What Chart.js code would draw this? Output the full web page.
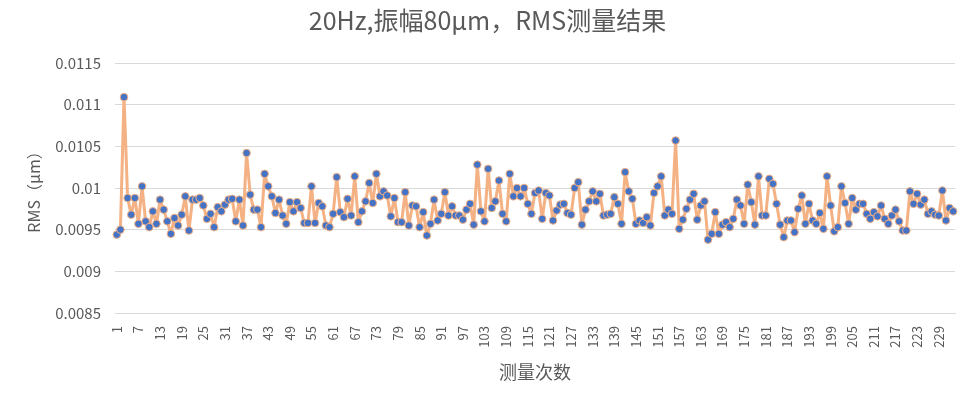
<!DOCTYPE html>
<html>
<head>
<meta charset="utf-8">
<script src="https://cdn.jsdelivr.net/npm/chart.js@4"></script>
<style>
  html, body { margin: 0; padding: 0; background: #fff; }
  #wrap { width: 964px; height: 393px; }
</style>
</head>
<body>
<div id="wrap"><canvas id="rmsChart" width="964" height="393"></canvas></div>
<script>
var rms1 = [0.00944, 0.0095, 0.01109, 0.00988, 0.00968, 0.00988, 0.00957, 0.01002, 0.0096, 0.00953,
  0.00972, 0.00957, 0.00986, 0.00974, 0.0096, 0.00945, 0.00964, 0.00955, 0.00968, 0.0099,
  0.00949, 0.00986, 0.00986, 0.00988, 0.00979, 0.00963, 0.00969, 0.00953, 0.00977, 0.00972,
  0.0098, 0.00986, 0.00987, 0.0096, 0.00986, 0.00955, 0.01042, 0.00992, 0.00974, 0.00974];
var rms2 = [0.00953, 0.01017, 0.01002, 0.0099, 0.0097, 0.00986, 0.00967, 0.00957, 0.00983, 0.00972,
  0.00983, 0.00976, 0.00958, 0.00958, 0.01002, 0.00958, 0.00982, 0.00978, 0.00955, 0.00953,
  0.00969, 0.01013, 0.00971, 0.00965, 0.00987, 0.00967, 0.01014, 0.00959, 0.00972, 0.00984,
  0.01006, 0.00982, 0.01017, 0.0099, 0.00996, 0.00991, 0.00966, 0.00988, 0.00959, 0.00959];
var rms3 = [0.00995, 0.00955, 0.00979, 0.00978, 0.00953, 0.00971, 0.00943, 0.00957, 0.00986, 0.00961,
  0.00969, 0.00995, 0.00967, 0.00978, 0.00967, 0.00967, 0.00962, 0.00974, 0.00981, 0.00956,
  0.01028, 0.00972, 0.0096, 0.01023, 0.00976, 0.00984, 0.01009, 0.00969, 0.0096, 0.01017,
  0.0099, 0.01, 0.0099, 0.01, 0.00981, 0.00969, 0.00994, 0.00997, 0.00963, 0.00994];
var rms4 = [0.00991, 0.00961, 0.00973, 0.0098, 0.00981, 0.0097, 0.00968, 0.01, 0.01007, 0.00956,
  0.00974, 0.00984, 0.00996, 0.00984, 0.00993, 0.00967, 0.00968, 0.00969, 0.00989, 0.00981,
  0.00957, 0.01019, 0.00996, 0.00987, 0.00957, 0.00961, 0.00958, 0.00965, 0.00955, 0.00994,
  0.01002, 0.01014, 0.00967, 0.00974, 0.00969, 0.01057, 0.00951, 0.00962, 0.00975, 0.00986];
var rms5 = [0.00993, 0.00962, 0.00979, 0.00984, 0.00938, 0.00945, 0.00971, 0.00945, 0.00956, 0.00959,
  0.00953, 0.00963, 0.00986, 0.00979, 0.00957, 0.01004, 0.00983, 0.00956, 0.01014, 0.00967,
  0.00967, 0.01011, 0.01005, 0.00981, 0.00956, 0.00941, 0.00961, 0.00961, 0.00947, 0.00975,
  0.00991, 0.00957, 0.00981, 0.00961, 0.00957, 0.0097, 0.00951, 0.01014, 0.00979, 0.00948];
var rms6 = [0.00953, 0.01002, 0.00982, 0.00957, 0.00988, 0.00974, 0.00981, 0.00981, 0.00969, 0.00963,
  0.00971, 0.00966, 0.00979, 0.00963, 0.00957, 0.00967, 0.00974, 0.0096, 0.00949, 0.00949,
  0.00996, 0.00981, 0.00993, 0.0098, 0.00986, 0.00969, 0.00972, 0.00968, 0.00967, 0.00997,
  0.00961, 0.00976, 0.00972];

var rmsValues = rms1.concat(rms2, rms3, rms4, rms5, rms6);

// measurement numbers 1..n
var runLabels = [];
for (var i = 1; i <= rmsValues.length; i++) runLabels.push(String(i));

var titleText = "20Hz,振幅80μm，RMS测量结果";
var yTitle = "RMS（μm）";
var xTitle = "测量次数";

var fontFamily = '"Noto Sans CJK SC", "Noto Sans", sans-serif';
var grey = "#595959";

var ctx = document.getElementById("rmsChart").getContext("2d");

var rmsChart = new Chart(ctx, {
  type: "line",
  data: {
    labels: runLabels,
    datasets: [{
      data: rmsValues,
      borderColor: "#F4B183",
      borderWidth: 3,
      borderJoinStyle: "round",
      borderCapStyle: "round",
      tension: 0,
      pointRadius: 3.8,
      pointBackgroundColor: "#4472C4",
      pointBorderColor: "#F4B183",
      pointBorderWidth: 1,
      fill: false
    }]
  },
  options: {
    responsive: false,
    animation: false,
    layout: { padding: { left: 20, right: 9, top: 0, bottom: 8 } },
    plugins: {
      legend: { display: false },
      tooltip: { enabled: false },
      title: {
        display: true,
        text: titleText,
        color: grey,
        font: { family: fontFamily, size: 25, weight: "normal" },
        padding: { top: 5, bottom: 28 }
      }
    },
    scales: {
      x: {
        type: "category",
        offset: true,
        grid: { display: false, drawTicks: false },
        border: { display: true, color: "#D9D9D9" },
        ticks: {
          autoSkip: false,
          maxRotation: 90,
          minRotation: 90,
          padding: 13,
          color: grey,
          font: { family: fontFamily, size: 13 },
          callback: function (val, idx) {
            return idx % 6 === 0 ? this.getLabelForValue(val) : "";
          }
        },
        title: {
          display: true,
          text: xTitle,
          color: grey,
          font: { family: fontFamily, size: 18 },
          padding: { top: 2, bottom: 2 }
        },
        afterFit: function (scale) {
          scale.height = 72;
          // rotated labels should not eat into the plot width
          scale.paddingLeft = 0;
          scale.paddingRight = 0;
        }
      },
      y: {
        min: 0.0085,
        max: 0.0115,
        grid: { color: "#D9D9D9", drawTicks: false },
        border: { display: false },
        ticks: {
          stepSize: 0.0005,
          padding: 14,
          color: grey,
          font: { family: fontFamily, size: 15 },
          callback: function (v) { return String(parseFloat(v.toFixed(4))); }
        },
        title: {
          display: true,
          text: yTitle,
          color: grey,
          font: { family: fontFamily, size: 16 },
          padding: { top: 4, bottom: 4 }
        },
        afterFit: function (scale) { scale.width = 95; }
      }
    }
  }
});
</script>
</body>
</html>
